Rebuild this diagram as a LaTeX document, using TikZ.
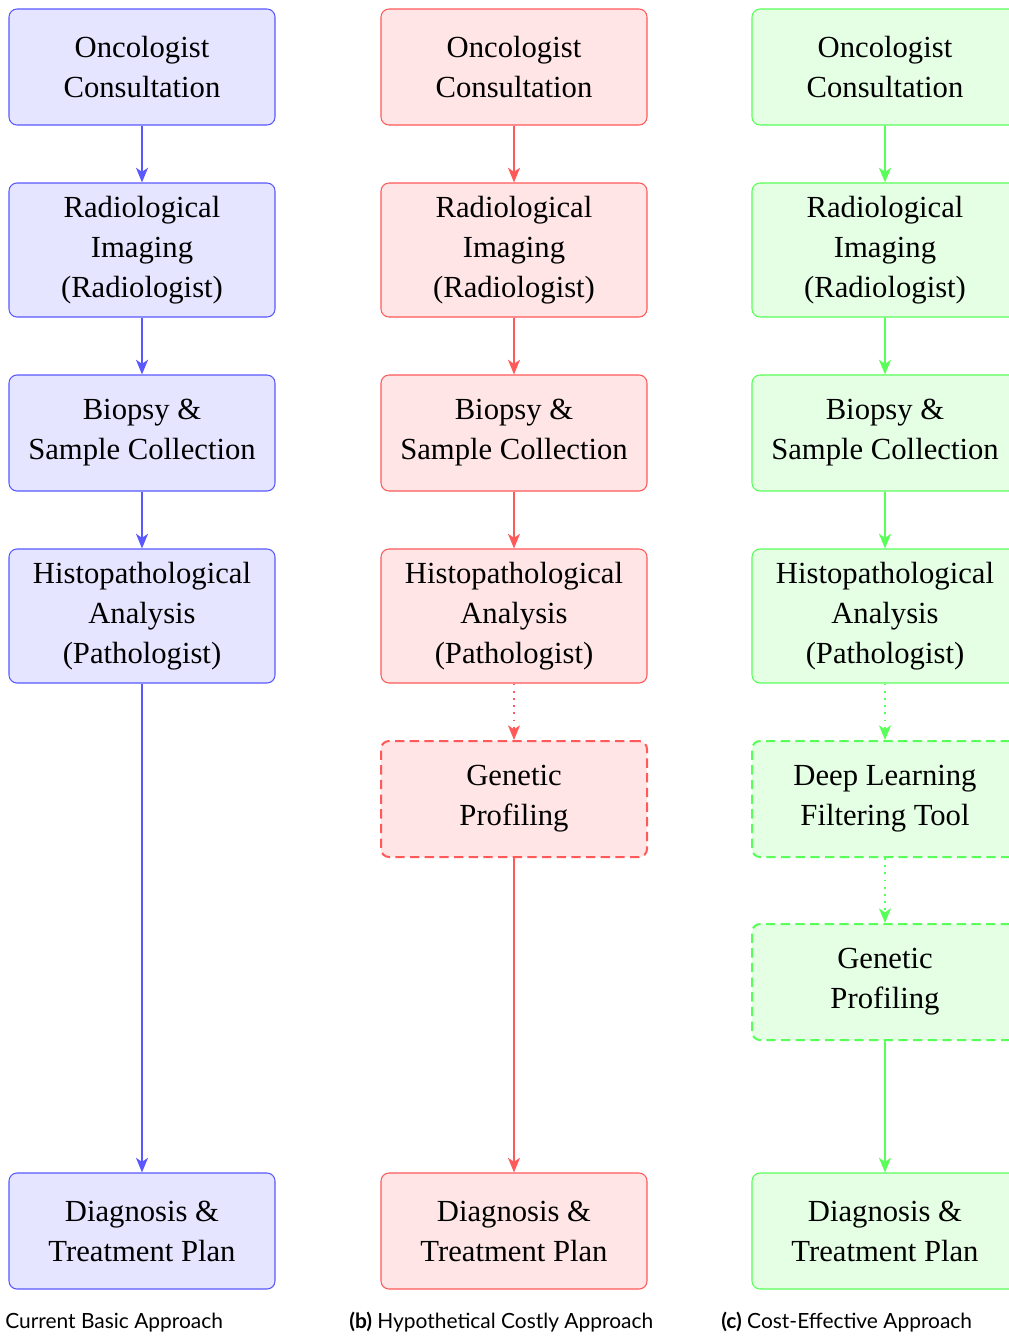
\documentclass[tikz,border=0pt]{standalone}
\usepackage{fontspec}
\setmainfont{Liberation Serif}
\newfontfamily\capfont{Lato}
\usetikzlibrary{arrows.meta}

\tikzset{
  stage/.style={draw=#1!65, fill=#1!10, line width=0.8pt, rounded corners=6pt,
    minimum width=199.5pt, minimum height=87pt, align=center,
    font=\fontsize{23}{30}\selectfont, inner sep=0pt},
  tall/.style={minimum height=100.5pt},
  optional/.style={dash pattern=on 7pt off 4pt, line width=1.5pt},
  flow/.style={draw=#1!65, line width=1.3pt,
    -{Stealth[length=11pt, width=9pt, inset=3pt]}},
  dotflow/.style={flow=#1, dash pattern=on 1.4pt off 4pt},
  caption/.style={font=\capfont\fontsize{15.7}{18}\selectfont, anchor=base west, inner sep=0pt}
}

\begin{document}
\begin{tikzpicture}[x=0.75pt, y=-0.75pt]
\path[use as bounding box] (0,0) rectangle (1009,1336);
\clip (0,0) rectangle (1009,1336);

% (a) current basic approach
\node[stage=blue] (a1) at (142,67) {Oncologist\\Consultation};
\node[stage=blue, tall] (a2) at (142,250) {Radiological\\Imaging\\(Radiologist)};
\node[stage=blue] (a3) at (142,433) {Biopsy \&\\Sample Collection};
\node[stage=blue, tall] (a4) at (142,616) {Histopathological\\Analysis\\(Pathologist)};
\node[stage=blue] (a5) at (142,1231) {Diagnosis \&\\Treatment Plan};
\draw[flow=blue] (a1) -- (a2);
\draw[flow=blue] (a2) -- (a3);
\draw[flow=blue] (a3) -- (a4);
\draw[flow=blue] (a4) -- (a5);

% (b) hypothetical costly approach
\node[stage=red] (b1) at (514,67) {Oncologist\\Consultation};
\node[stage=red, tall] (b2) at (514,250) {Radiological\\Imaging\\(Radiologist)};
\node[stage=red] (b3) at (514,433) {Biopsy \&\\Sample Collection};
\node[stage=red, tall] (b4) at (514,616) {Histopathological\\Analysis\\(Pathologist)};
\node[stage=red, optional] (b5) at (514,799) {Genetic\\Profiling};
\node[stage=red] (b6) at (514,1231) {Diagnosis \&\\Treatment Plan};
\draw[flow=red] (b1) -- (b2);
\draw[flow=red] (b2) -- (b3);
\draw[flow=red] (b3) -- (b4);
\draw[dotflow=red] (b4) -- (b5);
\draw[flow=red] (b5) -- (b6);

% (c) cost-effective approach
\node[stage=green] (c1) at (885,67) {Oncologist\\Consultation};
\node[stage=green, tall] (c2) at (885,250) {Radiological\\Imaging\\(Radiologist)};
\node[stage=green] (c3) at (885,433) {Biopsy \&\\Sample Collection};
\node[stage=green, tall] (c4) at (885,616) {Histopathological\\Analysis\\(Pathologist)};
\node[stage=green, optional] (c5) at (885,799) {Deep Learning\\Filtering Tool};
\node[stage=green, optional] (c6) at (885,982) {Genetic\\Profiling};
\node[stage=green] (c7) at (885,1231) {Diagnosis \&\\Treatment Plan};
\draw[flow=green] (c1) -- (c2);
\draw[flow=green] (c2) -- (c3);
\draw[flow=green] (c3) -- (c4);
\draw[dotflow=green] (c4) -- (c5);
\draw[dotflow=green] (c5) -- (c6);
\draw[flow=green] (c6) -- (c7);

% sub-figure captions
\node[caption] (capa) at (5,1328) {Current Basic Approach};
\node[caption] (capb) at (349,1328) {\textbf{(b)} Hypothetical Costly Approach};
\node[caption] (capc) at (721,1328) {\textbf{(c)} Cost-Effective Approach};
\end{tikzpicture}
\end{document}
